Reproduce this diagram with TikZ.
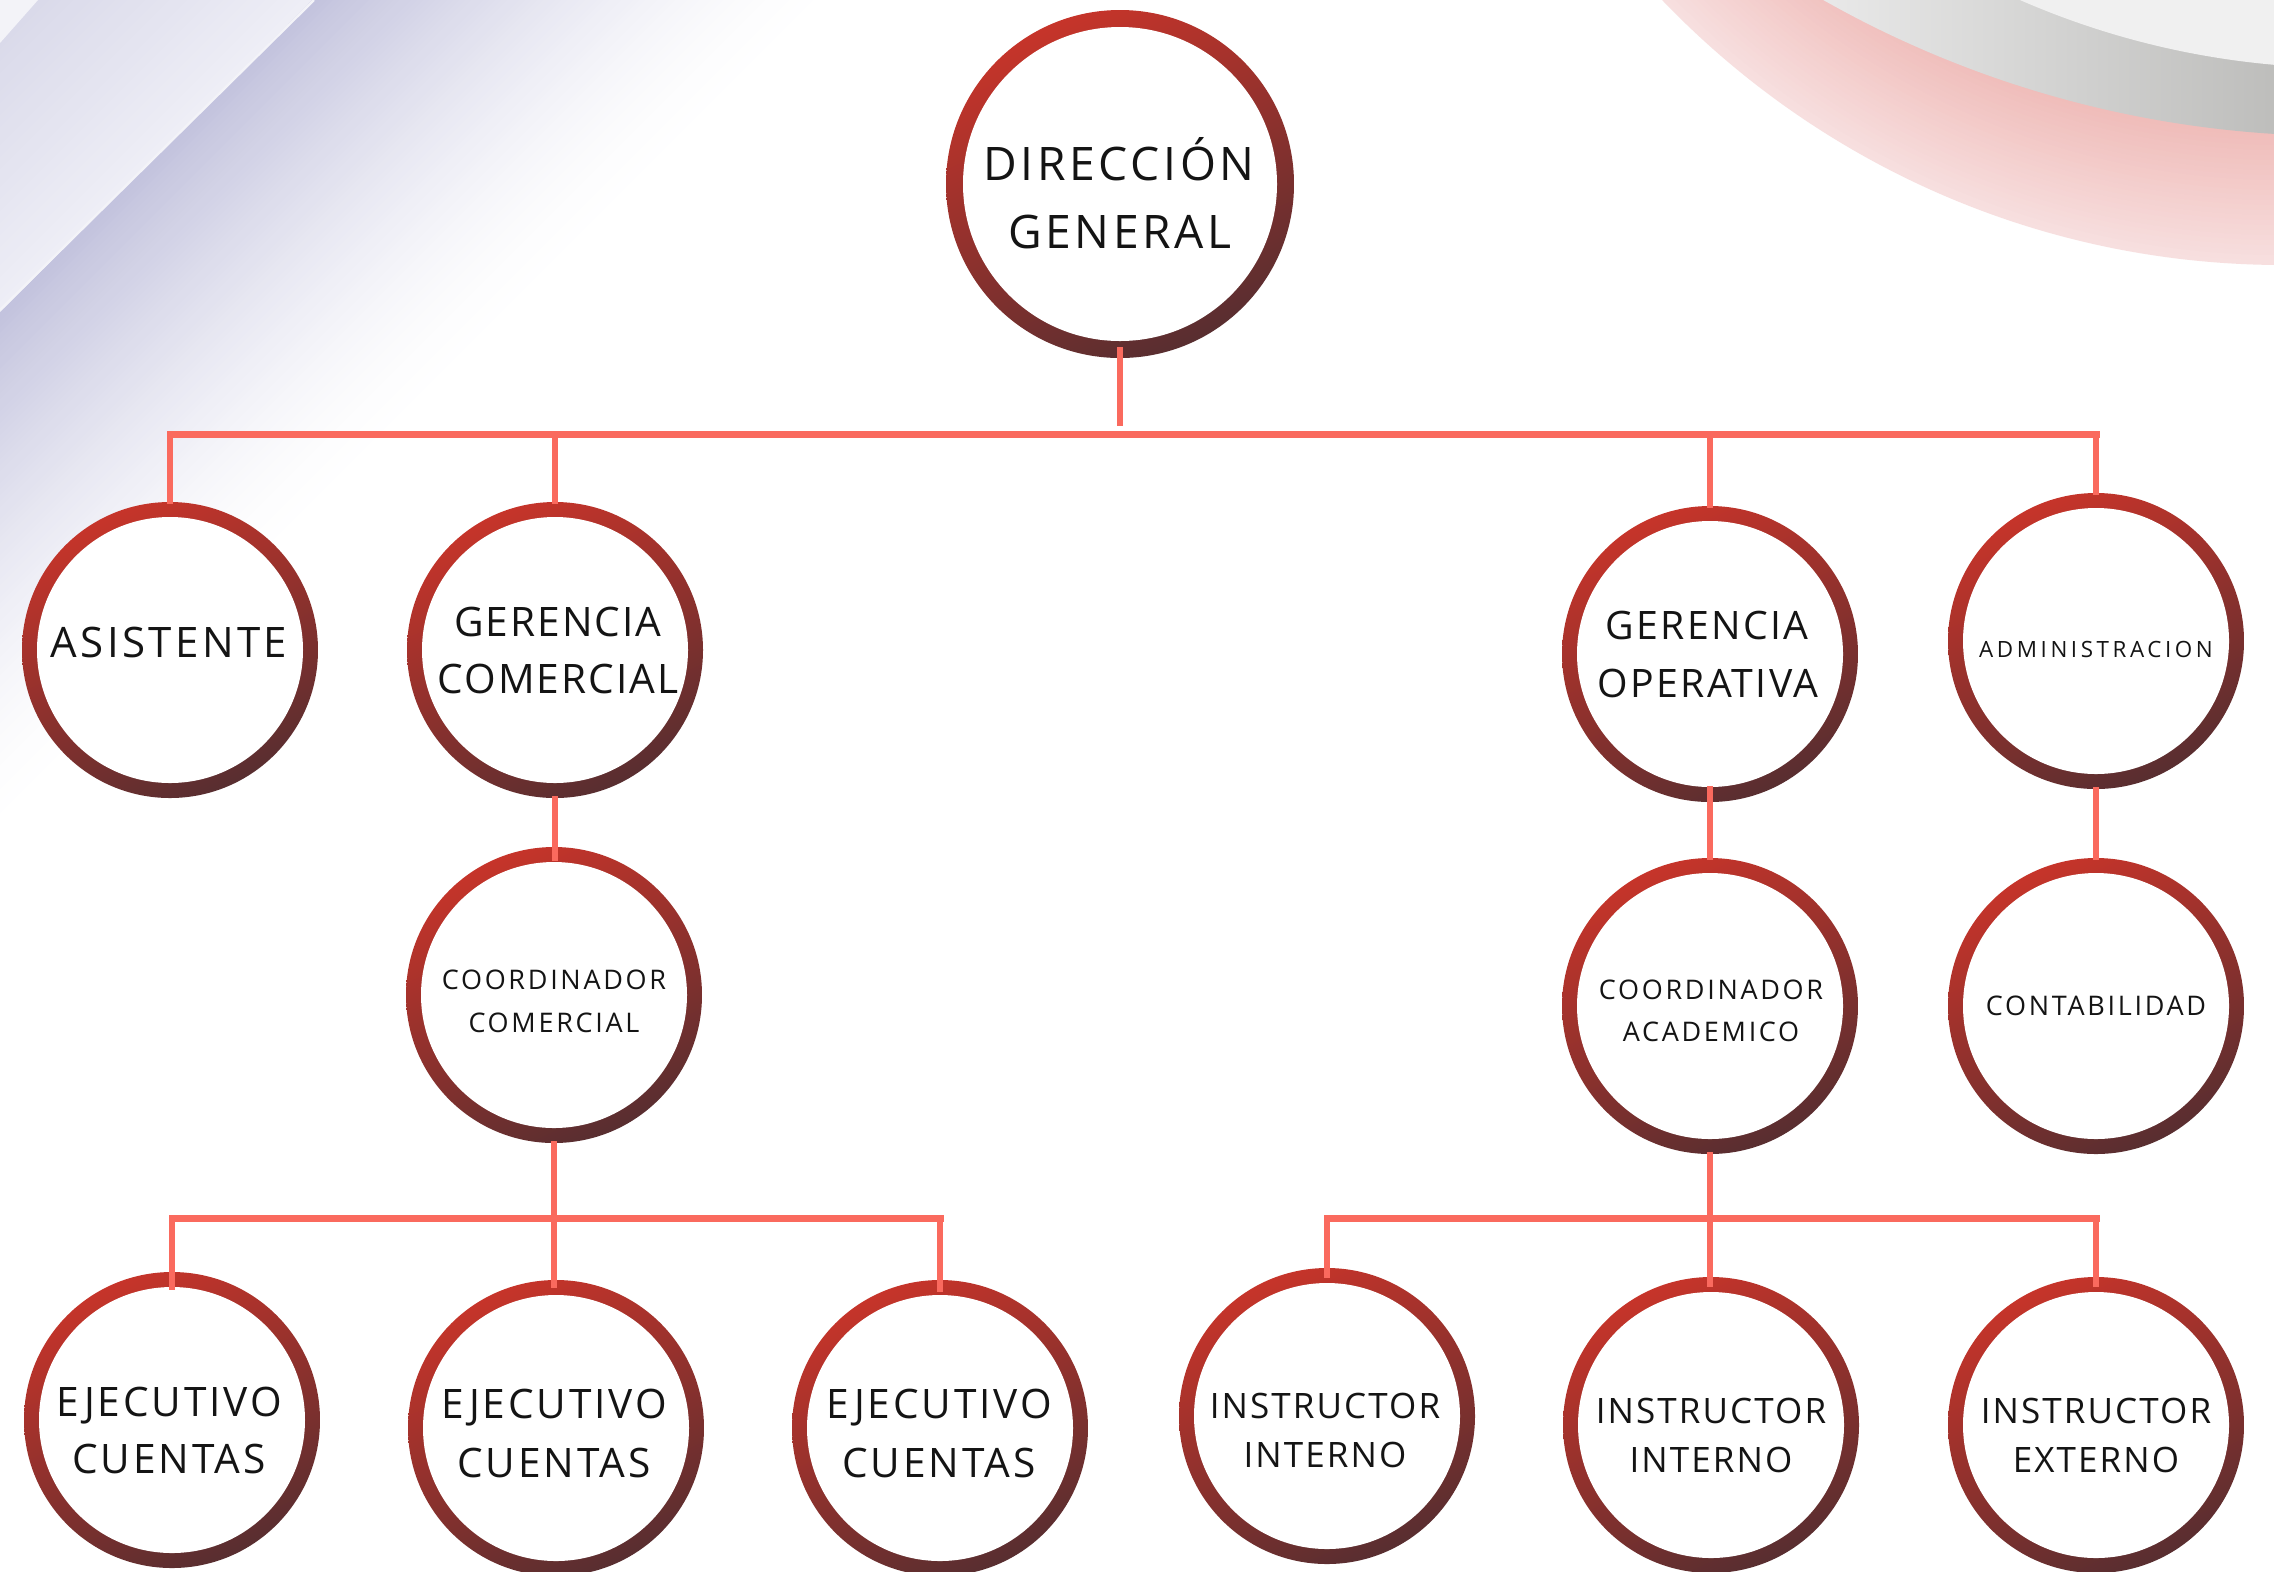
\documentclass[tikz,border=0pt]{standalone}
\usepackage{fontspec}
\setmainfont{Open Sans}
\usetikzlibrary{calc}
\definecolor{ringA}{RGB}{198,52,42}
\definecolor{ringB}{RGB}{88,46,48}
\definecolor{lineC}{RGB}{250,106,94}
\definecolor{lavD}{RGB}{194,194,221}
\definecolor{lavA}{RGB}{218,218,234}
\definecolor{lavB}{RGB}{238,238,246}
\definecolor{lavC}{RGB}{243,243,248}
\definecolor{pinkL}{RGB}{247,223,223}
\definecolor{pinkD}{RGB}{239,186,183}
\definecolor{grayL}{RGB}{235,235,235}
\definecolor{grayD}{RGB}{189,189,187}
\definecolor{grayIn}{RGB}{240,240,240}
\newcommand{\lblfont}[2]{\fontsize{#1}{#1}\selectfont\addfontfeatures{LetterSpace=#2}}
\begin{document}
\begin{tikzpicture}[x=0.5pt, y=-0.5pt,
  unit/.style={circle, minimum size=148pt, inner sep=0pt,
    path picture={
      \shade[top color=ringA, bottom color=ringB, shading angle=25]
        (path picture bounding box.north west) rectangle (path picture bounding box.south east);
      \fill[white] (path picture bounding box.center) circle[radius=66.5pt];}},
  head/.style={circle, minimum size=174pt, inner sep=0pt,
    path picture={
      \shade[top color=ringA, bottom color=ringB, shading angle=25]
        (path picture bounding box.north west) rectangle (path picture bounding box.south east);
      \fill[white] (path picture bounding box.center) circle[radius=78.5pt];}},
  conn/.style={draw=lineC, line width=2.75pt, line cap=rect},
  bus/.style={draw=lineC, line width=3.5pt, line cap=rect},
  txt/.style={anchor=base, inner sep=0pt, text=black!92}]
\useasboundingbox (0,0) rectangle (2274,1571);
\fill[white] (0,0) rectangle (2274,1571);
% ---- lavender background, top left
\foreach \cc in {830,824,...,318} {
  \pgfmathsetmacro\pp{100*((1-(\cc-312)/518)^1.5)}
  \fill[lavD!\pp!white] (0,0) -- (\cc,0) -- (0,\cc) -- cycle;
}
\foreach \cc in {312,306,...,44} {
  \pgfmathsetmacro\pp{(\cc-44)/2.68}
  \fill[lavB!\pp!lavA] (0,0) -- (\cc,0) -- (0,\cc) -- cycle;
}
\draw[lavC, line width=1.2pt] (314,0) -- (0,310);
\fill[lavC] (0,0) -- (38,0) -- (0,43) -- cycle;
% ---- pink / grey arcs, top right
\begin{scope}
  \clip (0,0) rectangle (2274,1571);
  \foreach \rr in {860,855,...,700} {
    \pgfmathsetmacro\pp{max(0,min(100,(\rr-720)/1.4))}
    \fill[pinkL!\pp!pinkD] (2283,-595) circle[radius=\rr];
  }
  \begin{scope}
    \clip (2341,-916) circle[radius=1052];
    \shade[left color=grayL, right color=grayD] (1800,-5) rectangle (2280,200);
  \end{scope}
  \fill[grayIn] (2347,-750) circle[radius=818];
\end{scope}
% ---- units
\node[head] (dg) at (1120,184) {};
\node[unit] (asis) at (170,650) {};
\node[unit] (gc) at (555,650) {};
\node[unit] (go) at (1710,654) {};
\node[unit] (adm) at (2096,641) {};
\node[unit] (cc) at (554,995) {};
\node[unit] (ca) at (1710,1006) {};
\node[unit] (cont) at (2096,1006) {};
\node[unit] (ej1) at (172,1420) {};
\node[unit] (ej2) at (556,1428) {};
\node[unit] (ej3) at (940,1428) {};
\node[unit] (ii1) at (1327,1416) {};
\node[unit] (ii2) at (1711,1425) {};
\node[unit] (ie) at (2096,1425) {};
% ---- connectors
\coordinate (busT) at (1120,434);
\coordinate (busL) at (554,1218);
\coordinate (busR) at (1710,1218);
\draw[bus] (asis.north |- busT) -- (adm.north |- busT);
\draw[conn, shorten >=5.5pt] ([yshift=4.5pt]dg.south) -- (dg.south |- busT);
\foreach \n in {asis,gc,go,adm} \draw[conn] (\n.north |- busT) -- (\n.north);
\draw[conn, shorten >=-6pt] (gc.south) -- (gc.south |- cc.north);
\draw[conn, shorten <=-7pt] (go.south) -- (go.south |- ca.north);
\draw[conn] (adm.south) -- (adm.south |- cont.north);
\draw[bus] (ej1.north |- busL) -- (ej3.north |- busL);
\draw[conn, shorten >=-3pt] (cc.south) -- (cc.south |- ej2.north);
\draw[conn, shorten >=-8pt] (ej1.north |- busL) -- (ej1.north);
\draw[conn, shorten >=-5pt] (ej3.north |- busL) -- (ej3.north);
\draw[bus] (ii1.north |- busR) -- (ie.north |- busR);
\draw[conn, shorten >=-4pt] (ca.south) -- (ca.south |- ii2.north);
\draw[conn, shorten >=-4pt] (ii1.north |- busR) -- (ii1.north);
\draw[conn, shorten >=-4pt] (ie.north |- busR) -- (ie.north);
% ---- texts
\node[txt, font=\lblfont{23.1pt}{8}] (dgA) at (1119,180) {DIRECCIÓN};
\node[txt, font=\lblfont{23.1pt}{8}] (dgB) at (1120,248) {GENERAL};
\node[txt, font=\lblfont{21pt}{8}] (asisA) at (169,657) {ASISTENTE};
\node[txt, font=\lblfont{20.3pt}{5}] (gcA) at (558,636) {GERENCIA};
\node[txt, font=\lblfont{20.3pt}{5}] (gcB) at (558,693) {COMERCIAL};
\node[txt, font=\lblfont{19.6pt}{6}] (goA) at (1707,639) {GERENCIA};
\node[txt, font=\lblfont{19.6pt}{6}] (goB) at (1708,697) {OPERATIVA};
\node[txt, font=\lblfont{11.2pt}{16}] (admA) at (2096,657) {ADMINISTRACION};
\node[txt, font=\lblfont{13.5pt}{10}] (ccA) at (554,989) {COORDINADOR};
\node[txt, font=\lblfont{13.5pt}{10}] (ccB) at (554,1032) {COMERCIAL};
\node[txt, font=\lblfont{13.5pt}{10}] (caA) at (1711,999) {COORDINADOR};
\node[txt, font=\lblfont{13.5pt}{10}] (caB) at (1711,1041) {ACADEMICO};
\node[txt, font=\lblfont{13.5pt}{10}] (contA) at (2096,1015) {CONTABILIDAD};
\node[txt, font=\lblfont{20.3pt}{7}] (ej1A) at (169,1416) {EJECUTIVO};
\node[txt, font=\lblfont{20.3pt}{7}] (ej1B) at (169,1473) {CUENTAS};
\node[txt, font=\lblfont{20.3pt}{7}] (ej2A) at (554,1418) {EJECUTIVO};
\node[txt, font=\lblfont{20.3pt}{7}] (ej2B) at (554,1477) {CUENTAS};
\node[txt, font=\lblfont{20.3pt}{7}] (ej3A) at (939,1418) {EJECUTIVO};
\node[txt, font=\lblfont{20.3pt}{7}] (ej3B) at (939,1477) {CUENTAS};
\node[txt, font=\lblfont{17.5pt}{6}] (ii1A) at (1325,1418) {INSTRUCTOR};
\node[txt, font=\lblfont{17.5pt}{6}] (ii1B) at (1325,1467) {INTERNO};
\node[txt, font=\lblfont{17.5pt}{6}] (ii2A) at (1711,1423) {INSTRUCTOR};
\node[txt, font=\lblfont{17.5pt}{6}] (ii2B) at (1711,1472) {INTERNO};
\node[txt, font=\lblfont{17.5pt}{6}] (ieA) at (2096,1423) {INSTRUCTOR};
\node[txt, font=\lblfont{17.5pt}{6}] (ieB) at (2096,1472) {EXTERNO};
\end{tikzpicture}
\end{document}
